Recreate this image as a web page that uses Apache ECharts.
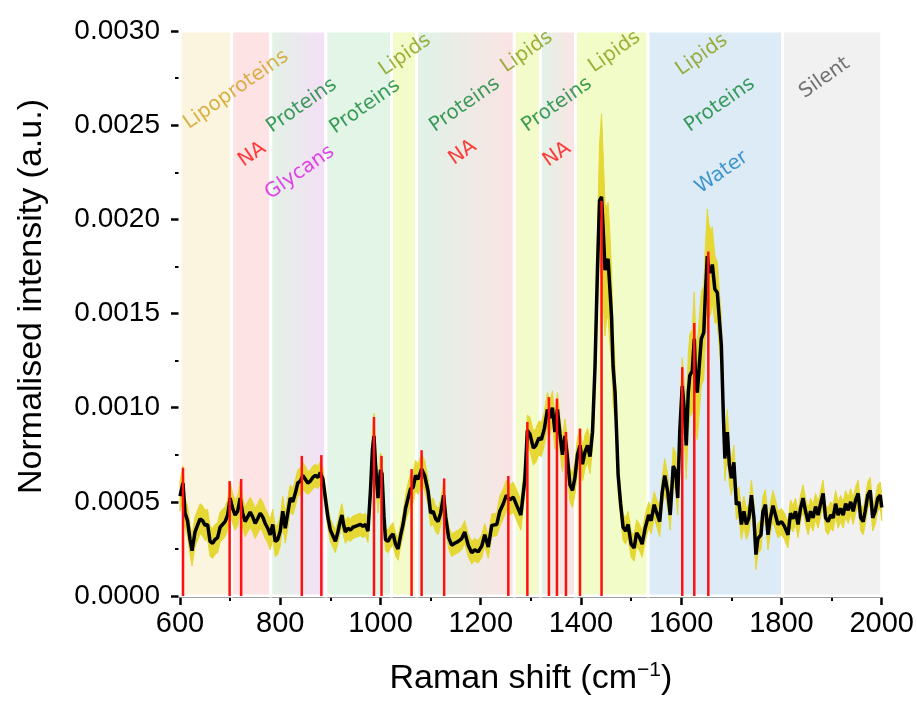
<!DOCTYPE html>
<html><head><meta charset="utf-8">
<script src="https://cdn.jsdelivr.net/npm/echarts@6/dist/echarts.min.js"></script>
<style>html,body{margin:0;padding:0;background:#fff}#c{width:917px;height:701px}</style>
</head><body><div id="c"></div>
<script>
// ---- data ----
const ramanShift = [
600,606,610,615,620,624,630,640,645,650,655,
660,665,670,675,680,690,695,700,705,710,715,720,
725,730,735,740,745,750,755,760,765,770,775,780,785,
790,795,800,805,810,815,820,825,830,835,840,845,850,
855,860,865,870,875,880,885,890,895,900,905,910,915,
920,923,927,930,935,940,945,950,955,960,965,970,975,980,984,
987,990,995,1000,1003,1007,1010,1015,1020,1025,1030,1035,1040,
1045,1050,1055,1060,1065,1070,1075,1082,1088,1095,1100,1105,1110,
1115,1120,1126,1130,1136,1142,1148,1155,1162,1168,1175,1182,1188,1195,
1202,1208,1215,1222,1232,1238,1245,1251,1258,1265,1272,1280,1288,1293,1298,
1305,1310,1316,1321,1327,1333,1338,1343,1348,1353,1358,1363,1368,
1372,1378,1383,1388,1393,1398,1403,1408,1413,1418,1423,1428,
1433,1437,1441,1444,1448,1451,1454,1457,1461,1464,1468,1471,1474,
1479,1484,1489,1494,1500,1506,1511,1517,1522,1528,1535,1540,1546,1550,
1557,1562,1567,1573,1578,1584,1589,1593,1597,1602,1606,1610,
1614,1617,1622,1626,1629,1632,1636,1640,1645,1648,1652,1655,1659,1662,
1667,1672,1677,1680,1684,1687,1692,1696,1700,1705,1710,1715,1720,
1725,1730,1735,1740,1745,1749,1753,1759,1763,1768,1773,1778,1783,1788,
1793,1800,1806,1813,1818,1823,1828,1833,1838,1843,1848,1853,1858,
1863,1868,1873,1878,1883,1888,1893,1898,1903,1908,1913,1918,1923,1928,
1933,1938,1943,1948,1953,1958,1963,1967,1972,1977,1982,1987,1992,1997,2000
];
const meanIntensity = [
.000530,.000600,.000440,.000400,.000300,.000240,.000340,.000410,.000400,.000375,.000380,
.000290,.000280,.000300,.000310,.000365,.000395,.000430,.000520,.000465,.000430,.000450,.000520,
.000440,.000395,.000420,.000445,.000420,.000385,.000410,.000440,.000420,.000385,.000360,.000325,.000380,
.000290,.000300,.000345,.000450,.000360,.000440,.000520,.000500,.000545,.000600,.000610,.000640,.000620,
.000600,.000610,.000630,.000640,.000630,.000655,.000620,.000520,.000420,.000350,.000320,.000290,.000340,
.000400,.000430,.000370,.000340,.000360,.000350,.000365,.000370,.000375,.000380,.000370,.000380,.000345,.000560,.000780,
.000850,.000700,.000520,.000670,.000650,.000420,.000300,.000290,.000315,.000330,.000275,.000250,.000320,
.000380,.000465,.000520,.000570,.000575,.000640,.000620,.000675,.000640,.000555,.000440,.000450,.000410,
.000395,.000440,.000535,.000420,.000310,.000270,.000280,.000290,.000305,.000340,.000270,.000230,.000245,.000235,
.000265,.000325,.000260,.000375,.000380,.000450,.000490,.000535,.000510,.000525,.000480,.000430,.000620,.000880,.000860,
.000785,.000800,.000840,.000830,.000890,.000990,.000945,.001000,.000870,.000990,.000860,.000750,.000850,
.000760,.000590,.000560,.000630,.000750,.000800,.000700,.000765,.000800,.000740,.000870,.001220,
.001750,.002100,.002120,.001960,.001730,.001765,.001790,.001660,.001480,.001220,.001080,.000870,.000645,
.000490,.000365,.000345,.000380,.000275,.000255,.000335,.000310,.000275,.000360,.000430,.000400,.000485,.000450,
.000395,.000550,.000640,.000555,.000430,.000690,.000660,.000520,.000870,.001115,.000990,.000800,
.001080,.001170,.001195,.001365,.001120,.001080,.001225,.001365,.001400,.001595,.001805,.001725,.001720,.001760,
.001630,.001610,.001435,.001330,.000960,.000730,.000870,.000695,.000625,.000710,.000485,.000500,.000380,
.000450,.000380,.000415,.000535,.000415,.000220,.000305,.000325,.000450,.000485,.000325,.000415,.000480,.000430,
.000380,.000395,.000370,.000325,.000440,.000410,.000450,.000380,.000465,.000520,.000450,.000395,.000450,
.000415,.000475,.000430,.000490,.000545,.000415,.000395,.000430,.000415,.000490,.000430,.000465,.000430,.000490,
.000455,.000500,.000450,.000510,.000545,.000415,.000395,.000450,.000535,.000560,.000415,.000450,.000520,.000535,.000470
];
const stdIntensity = [
.00008,.00009,.00008,.00008,.00008,.00008,.00008,.00008,.00008,.00008,.00008,
.00008,.00008,.00008,.00008,.00008,.00008,.00008,.00009,.00008,.00008,.00008,.00008,
.00008,.00008,.00008,.00008,.00008,.00008,.00008,.00008,.00008,.00008,.00008,.00008,.00008,
.00008,.00008,.00008,.00008,.00008,.00008,.00007,.00007,.00007,.00007,.00007,.00007,.00007,
.00006,.00006,.00006,.00006,.00006,.00006,.00006,.00006,.00006,.00006,.00006,.00006,.00006,
.00006,.00006,.00006,.00006,.00006,.00006,.00006,.00006,.00006,.00006,.00006,.00006,.00006,.00008,.00010,
.00012,.00010,.00008,.00009,.00009,.00007,.00006,.00006,.00006,.00006,.00006,.00006,.00006,
.00006,.00007,.00008,.00008,.00008,.00008,.00008,.00008,.00008,.00007,.00007,.00007,.00007,
.00007,.00007,.00007,.00007,.00006,.00006,.00006,.00006,.00006,.00006,.00006,.00006,.00006,.00006,
.00006,.00006,.00006,.00006,.00006,.00008,.00008,.00008,.00008,.00008,.00008,.00008,.00008,.00008,.00009,
.00009,.00009,.00009,.00009,.00009,.00009,.00009,.00009,.00009,.00009,.00009,.00009,.00009,
.00009,.00009,.00009,.00009,.00009,.00009,.00009,.00009,.00009,.00009,.00009,.00012,
.00020,.00030,.00044,.00040,.00035,.00030,.00030,.00030,.00025,.00020,.00015,.00010,.00009,
.00007,.00007,.00007,.00007,.00007,.00007,.00007,.00007,.00007,.00007,.00007,.00007,.00007,.00007,
.00008,.00008,.00009,.00009,.00008,.00010,.00010,.00009,.00012,.00015,.00015,.00018,
.00020,.00022,.00022,.00025,.00025,.00025,.00025,.00025,.00025,.00025,.00025,.00025,.00022,.00020,
.00018,.00016,.00015,.00015,.00013,.00012,.00012,.00010,.00009,.00009,.00008,.00008,.00008,
.00008,.00008,.00008,.00008,.00008,.00008,.00008,.00008,.00008,.00008,.00008,.00008,.00008,.00008,
.00007,.00007,.00007,.00007,.00007,.00007,.00007,.00007,.00007,.00007,.00007,.00007,.00007,
.00007,.00007,.00007,.00007,.00007,.00007,.00007,.00007,.00007,.00007,.00007,.00007,.00007,.00007,
.00007,.00007,.00007,.00007,.00007,.00007,.00007,.00007,.00007,.00007,.00007,.00007,.00007,.00007,.00007
];
const peakShift  = [606,699,722,843,882,987,1002,1062,1082,1127,1255,1293,1336,1352,1370,1398,1441,1602,1626,1654];
const peakHeight = [.000681,.000610,.000621,.000744,.000748,.000951,.000744,.000674,.000774,.000624,.000637,.000924,.001056,.001048,.000871,.000889,.002097,.001215,.001450,.001829];

const bandStart = [600,703,781,891,1022,1072,1267,1319,1389,1534,1802];
const bandEnd   = [703,781,891,1022,1072,1267,1319,1389,1534,1802,2000];
const bandFill  = [['#fbf4de'],['#fde3e3'],['#e2f3e5','#f5def7'],['#e2f5e6'],['#f2fbc9'],['#dff3e8','#fbe3e3'],['#f2fbc9'],['#e1f3e7','#fbe3e3'],['#f2fcc8'],['#dcebf6'],['#f1f1f1']];

const labelText      = ['Lipoproteins','NA','Proteins','Glycans','Proteins','Lipids','Proteins','NA','Lipids','Proteins','NA','Lipids','Lipids','Proteins','Water','Silent'];
const labelShift     = [712,744,843,839,969,1049,1168,1164,1292,1352,1352,1467,1641,1677,1681,1886];
const labelIntensity = [.002688,.002344,.002603,.002249,.002598,.002873,.002608,.002354,.002889,.002608,.002344,.002889,.002873,.002608,.002249,.002751];
const labelColor = {Lipoproteins:'#d09f1c', NA:'#ff1010', Proteins:'#0f8534', Glycans:'#dc18e4', Lipids:'#869c12', Water:'#1680c4', Silent:'#505050'};

const xTicks = [600,800,1000,1200,1400,1600,1800,2000];
const yTicks = [0,0.0005,0.001,0.0015,0.002,0.0025,0.003];

// ---- chart ----
const chart = echarts.init(document.getElementById('c'), null, {renderer:'canvas'});
const meanData = ramanShift.map((x,i)=>[x, meanIntensity[i]]);
const peakData = peakShift.map((x,i)=>[x, peakHeight[i]]);
const labelData = labelText.map((t,i)=>({name:t, value:[labelShift[i], labelIntensity[i]],
  label:{color:labelColor[t]}}));
const bandAreas = bandStart.map((s,i)=>{
  const f = bandFill[i];
  const color = f.length === 1 ? f[0] : {type:'linear', x:0, y:0, x2:1, y2:0,
    colorStops:[{offset:0,color:f[0]},{offset:1,color:f[1]}]};
  return [{xAxis:s, itemStyle:{color, borderColor:'#ffffff', borderWidth:3}}, {xAxis:bandEnd[i]}];
});

const axisFont = 'Liberation Sans, Arial, sans-serif';
chart.setOption({
  animation:false,
  backgroundColor:'#ffffff',
  grid:{left:180, right:35, top:31, bottom:103},
  xAxis:{
    type:'value', min:600, max:2000, interval:200,
    name:'Raman shift (cm{sup|−1})', nameLocation:'middle', nameGap:64,
    nameTextStyle:{fontSize:34, color:'#000', fontFamily:axisFont,
      rich:{sup:{fontSize:21, color:'#000', fontFamily:axisFont, padding:[0,0,17,0]}}},
    axisLine:{show:true, onZero:false, lineStyle:{color:'#000', width:2.5}},
    axisTick:{show:true, inside:false, length:9, lineStyle:{color:'#000', width:2.5}},
    minorTick:{show:true, splitNumber:2, length:5, lineStyle:{color:'#000', width:2}},
    axisLabel:{fontSize:29, color:'#000', fontFamily:axisFont, margin:13,
      formatter:v=>String(v)},
    splitLine:{show:false}
  },
  yAxis:{
    type:'value', min:0, max:0.003, interval:0.0005,
    name:'Normalised intensity (a.u.)', nameLocation:'middle', nameGap:131,
    nameTextStyle:{fontSize:34, color:'#000', fontFamily:axisFont, padding:[0,0,0,34]},
    axisLine:{show:true, onZero:false, lineStyle:{color:'#000', width:2.5}},
    axisTick:{show:true, inside:false, length:9, lineStyle:{color:'#000', width:2.5}},
    minorTick:{show:true, splitNumber:2, length:5, lineStyle:{color:'#000', width:2}},
    axisLabel:{fontSize:28, color:'#000', fontFamily:axisFont, margin:20,
      formatter:v=>v.toFixed(4)},
    splitLine:{show:false}
  },
  series:[
    {type:'line', name:'bands', data:[], silent:true, z:0,
      markArea:{silent:true, data:bandAreas}},
    {type:'custom', name:'std', silent:true, z:2, data:[[0]],
      renderItem:function(params, api){
        const up = ramanShift.map((x,i)=>api.coord([x, meanIntensity[i]+stdIntensity[i]]));
        const lo = ramanShift.map((x,i)=>api.coord([x, Math.max(0, meanIntensity[i]-stdIntensity[i])])).reverse();
        return {type:'polygon', shape:{points:up.concat(lo)}, style:{fill:'#e5d834', stroke:'#e5d834', lineWidth:1}};
      }},
    {type:'line', name:'mean', data:meanData, symbol:'none', z:3, silent:true,
      lineStyle:{color:'#000', width:3.5}},
    {type:'custom', name:'peaks', silent:true, z:4, data:peakData,
      renderItem:function(params, api){
        const x = api.value(0), h = api.value(1);
        const p0 = api.coord([x, 0]), p1 = api.coord([x, h]);
        return {type:'line', shape:{x1:p0[0], y1:p0[1], x2:p1[0], y2:p1[1]},
          style:{stroke:'#ff1010', lineWidth:2.5}};
      }},
    {type:'scatter', name:'labels', data:labelData, symbolSize:0, silent:true, z:5,
      label:{show:true, formatter:'{b}', position:'inside', align:'center', verticalAlign:'middle',
        rotate:35, fontSize:20, fontFamily:'DejaVu Sans, Verdana, sans-serif'}}
  ]
});
</script></body></html>
